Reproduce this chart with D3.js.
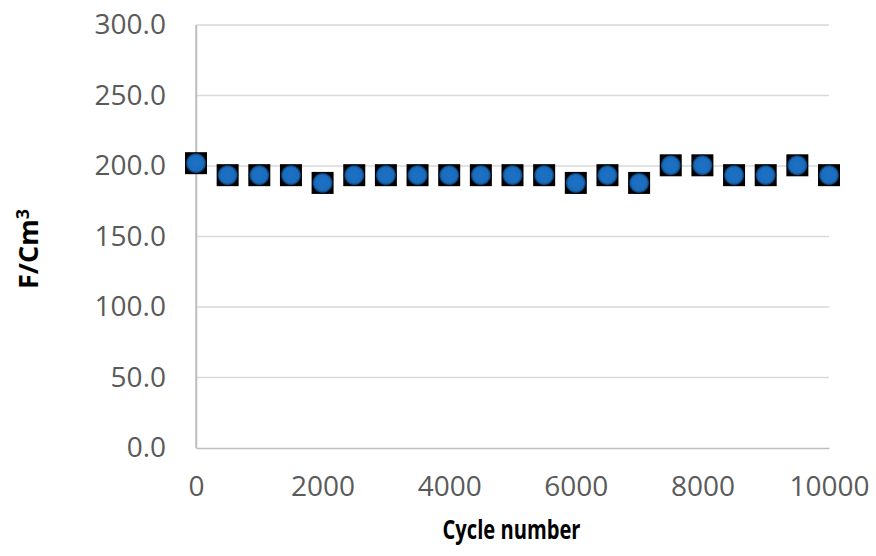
<!DOCTYPE html>
<html><head><meta charset="utf-8">
<script src="https://cdn.jsdelivr.net/npm/d3@7/dist/d3.min.js"></script>
<style>body{margin:0;background:#fff}svg{display:block}</style>
</head><body>
<svg id="c" width="876" height="556"></svg>
<script>
const cycles = [0,500,1000,1500,2000,2500,3000,3500,4000,4500,5000,5500,6000,6500,7000,7500,8000,8500,9000,9500,10000];
const capacitance = [202,193.5,193.5,193.5,188,193.5,193.5,193.5,193.5,193.5,193.5,193.5,188,193.5,188,200.5,200.5,193.5,193.5,200.5,193.5];
const yTicks = [0,50,100,150,200,250,300];
const xTicks = [0,2000,4000,6000,8000,10000];
const xTitle = "Cycle number";

const svg = d3.select("#c");
const L=196, R=829, T=25, B=448;
const x = d3.scaleLinear().domain([0,10000]).range([L,R]);
const y = d3.scaleLinear().domain([0,300]).range([B,T]);

const defs = svg.append("defs");
const g = defs.append("radialGradient").attr("id","dot");
g.append("stop").attr("offset","0%").attr("stop-color","#1d71c4");
g.append("stop").attr("offset","72%").attr("stop-color","#1a6cbd");
g.append("stop").attr("offset","88%").attr("stop-color","#0f4a85");
g.append("stop").attr("offset","100%").attr("stop-color","#000");

svg.append("g").selectAll("line").data(yTicks.filter(d=>d>0)).join("line")
  .attr("x1",L).attr("x2",R).attr("y1",d=>y(d)).attr("y2",d=>y(d))
  .attr("stroke","#d9d9d9").attr("stroke-width",1.3);
const yAxis = svg.append("g").attr("transform",`translate(${L},0)`)
  .call(d3.axisLeft(y).tickValues(yTicks).tickSize(0).tickPadding(30).tickFormat(d3.format(".1f")));
const xAxis = svg.append("g").attr("transform",`translate(0,${B})`)
  .call(d3.axisBottom(x).tickValues(xTicks).tickSize(0).tickPadding(28).tickFormat(d=>String(d)));
[yAxis,xAxis].forEach(a=>{
  a.select(".domain").attr("stroke","#bfbfbf").attr("stroke-width",1.5);
  a.selectAll("text").attr("fill","#5a5a5a").style("font-family","'Open Sans',sans-serif").style("font-size","28px");
});
svg.append("line").attr("x1",L).attr("x2",L).attr("y1",T).attr("y2",B).attr("stroke","#bfbfbf").attr("stroke-width",1.5);

const m = svg.append("g").selectAll("g").data(cycles.map((c,i)=>[c,capacitance[i]])).join("g")
  .attr("transform",d=>`translate(${x(d[0])},${y(d[1])})`);
m.append("rect").attr("x",-11).attr("y",-11).attr("width",22).attr("height",22).attr("fill","#000");
m.append("circle").attr("r",10.5).attr("fill","url(#dot)");

svg.append("text").attr("x",(L+R)/2 - 1).attr("y",539).attr("text-anchor","middle")
  .style("font-family","'Open Sans',sans-serif").style("font-weight","bold").style("font-size","27px")
  .attr("textLength",138).attr("lengthAdjust","spacingAndGlyphs").attr("fill","#000").text(xTitle);
const yt = svg.append("text").attr("transform","translate(38,249) rotate(-90)").attr("text-anchor","middle")
  .style("font-family","'Open Sans',sans-serif").style("font-weight","bold").style("font-size","27px").attr("fill","#000");
yt.append("tspan").text("F/Cm");
yt.append("tspan").attr("dy",-9).style("font-size","18px").text("3");
</script>
</body></html>
